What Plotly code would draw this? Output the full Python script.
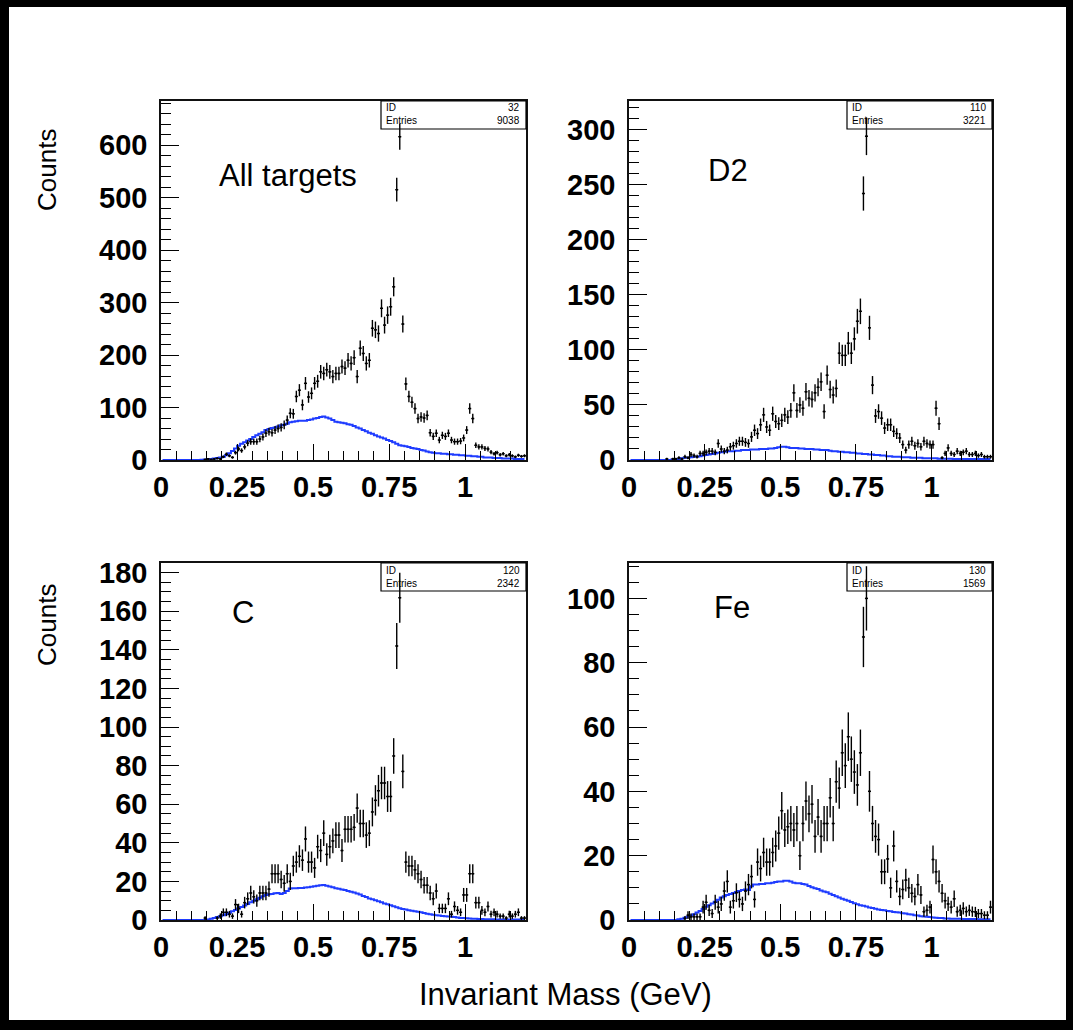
import numpy as np
import plotly.graph_objects as go

# ---------------- data ----------------
BIN_WIDTH = 0.01
N_BINS = 120
bin_centers = [round((i + 0.5) * BIN_WIDTH, 4) for i in range(N_BINS)]

counts_all = [0,0,0,0,0,0,0,0,0,0,
              0,0,0,0,1,2,1,2,3,2,
              6,11,8,5,14,21,18,25,32,35,
              35,35,40,44,51,54,52,57,60,62,
              67,76,89,88,121,133,105,146,120,127,
              146,150,168,165,172,168,159,165,165,178,
              175,190,184,195,159,213,203,184,190,251,
              248,241,289,257,276,292,330,515,616,259,
              145,121,110,98,79,82,80,85,52,45,
              51,38,47,45,51,38,35,35,36,42,
              57,98,79,28,25,25,22,21,15,12,
              14,10,12,8,10,8,6,9,7,8]

bkg_all = [0,0,0,0,0,0,0,0,0,0,
           0,0,0,0.5,1,1.5,2,3,4,5,
           6,9,13,17,22,27,31,34,37,40,
           44,47,50,53,57,59,61,62,64,66,
           67,69,72,73,74,75,75,75,76,77,
           79,80,82,83,81,79,76,73,72,71,
           70,68,67,65,62,60,57,55,52,50,
           47,45,43,41,38,36,34,31,28,27,
           26,25,23,22,21,19,18,16,15,14,
           13,13,12,12,11,11,10,10,9,9,
           8,8,7,7,6,6,5,5,5,4,
           4,4,3,3,3,3,2,2,2,2]

counts_d2 = [0,0,0,0,0,0,0,0,0,0,
             0,0,1,0,1,1,2,1,3,2,
             5,4,3,6,6,7,8,8,7,15,
             10,8,9,12,13,15,17,17,16,15,
             21,27,24,32,41,30,27,42,35,33,
             36,41,39,45,61,45,50,47,62,56,
             55,61,66,71,44,77,64,59,65,97,
             95,95,106,97,110,126,135,242,294,120,
             68,40,44,38,29,32,32,26,24,20,
             14,9,14,17,13,15,12,17,15,14,
             14,47,33,2,6,11,6,5,8,6,
             7,8,5,5,6,4,5,3,3,3]

bkg_d2 = [0,0,0,0,0,0,0,0,0,0,
          0,0,0,0,0.5,1,1,1.5,2,2,
          2.5,3,3,3.5,4,4.5,5,5.5,6,6.5,
          7,7.5,8,8,8,8.5,8.5,9,9,9,
          9.5,9.5,9.5,10,10,10,10.5,10.5,11,11.5,
          12,12,11.5,11,11,11,10.5,10.5,10,10,
          10,9.5,9.5,9,9,9,8.5,8,8,7.5,
          7.5,7,7,6.5,6.5,6,6,5.5,5.5,5,
          5,4.5,4.5,4,4,3.5,3.5,3,3,3,
          2.5,2.5,2.5,2,2,2,2,1.5,1.5,1.5,
          1.5,1.5,1.2,1.2,1.2,1.2,1.2,1,1,1,
          1,1,1,1,1,1,1,1,1,1]

counts_c = [0,0,0,0,0,0,0,0,0,0,
            0,0,0,0,1,0,0,0,1,2,
            4,4,3,2,8,6,3,9,11,14,
            12,10,14,14,14,16,24,24,24,21,
            19,24,20,28,30,33,31,42,30,30,
            27,38,36,45,34,38,41,44,44,36,
            47,47,47,48,58,50,50,44,45,56,
            62,67,71,71,64,64,85,142,167,77,
            30,28,28,26,24,21,18,18,14,11,
            15,6,6,6,11,3,7,5,4,13,
            13,24,24,9,9,5,4,7,3,4,
            3,2,2,1,3,2,3,4,1,1]

bkg_c = [0,0,0,0,0,0,0,0,0,0,
         0,0,0,0,0,0.3,0.6,1,1.5,2,
         2.5,3,3.8,4.5,5.2,6,6.8,7.5,8.3,9.2,
         10,10.8,11.5,12.3,13,13.3,13.5,13.8,14,13.5,
         14,15,16.3,16.5,16.5,16.6,16.6,16.8,17,17.2,
         17.5,17.7,18,18.2,17.8,17.3,17,16.5,16.2,15.8,
         15.5,15,14.7,14.2,13.7,13.2,12.5,11.9,11.2,10.7,
         10.2,9.7,9.2,8.6,8.1,7.6,7.1,6.6,6.1,5.7,
         5.4,5.1,4.8,4.5,4.3,4,3.6,3.3,3,2.7,
         2.5,2.3,2.1,1.9,1.8,1.7,1.5,1.3,1.1,1,
         0.9,0.8,0.7,0.6,0.5,0.5,0.4,0.4,0.4,0.4,
         0.3,0.3,0.3,0.3,0.3,0.2,0.2,0.2,0.2,0.2]

counts_fe = [0,0,0,0,0,0,0,0,0,0,
             0,0,0,0,0,0,0,0,0.5,1.5,
             1,1,1,1,4,5.5,3,2,5.5,4,
             5,9,12,4,6,8.5,6.4,5,9,11,
             13.5,6.4,18,16,21,18,18,21,23,27,
             34,28,29,30,28,30,20,30,37,33,
             36,26,32,26,30,30,38,30,43,41,
             52,48,57,50,46,42,52,88,100,40,
             30,26,25,15,15,19,10,23,12,7.3,
             9.5,12.4,10,8.3,7.3,11,7.8,2.6,3,4,
             18.8,15,12,8.3,6,5,4,6.6,2.6,3,
             3.6,2.6,3,2.6,2.5,2,2,1.5,1.5,4]

bkg_fe = [0,0,0,0,0,0,0,0,0,0,
          0,0,0,0,0,0,0.2,0.4,0.7,1,
          1.4,1.8,2.3,2.8,3.4,4.1,4.6,5.1,5.7,6.3,
          7,7.4,7.8,8.1,8.4,8.7,9,9.3,9.5,9.3,
          10.5,11,11,11.2,11.2,11.4,11.4,11.6,11.8,12,
          12,12.2,12.2,12,11.6,11.4,11.4,11.2,11,10.6,
          10.2,9.9,9.6,9.2,8.9,8.6,8.2,7.8,7.4,7,
          6.6,6.3,6,5.6,5.2,4.9,4.6,4.4,4.2,3.9,
          3.7,3.5,3.3,3.1,3,2.8,2.7,2.5,2.4,2.3,
          2.1,2,1.8,1.7,1.5,1.4,1.2,1.1,1,0.9,
          0.8,0.7,0.6,0.6,0.5,0.5,0.4,0.4,0.4,0.4,
          0.3,0.3,0.3,0.3,0.3,0.2,0.2,0.2,0.2,0.2]

panel_labels = ["All targets", "D2", "C", "Fe"]
stat_ids = ["32", "110", "120", "130"]
stat_entries = ["9038", "3221", "2342", "1569"]
y_max = [684, 326, 185, 111]
y_dtick = [100, 50, 20, 20]
y_minor_dtick = [20, 10, 5, 5]
x_range = [0, 1.2]
x_title = "Invariant Mass (GeV)"
y_title = "Counts"

all_counts = [counts_all, counts_d2, counts_c, counts_fe]
all_bkg = [bkg_all, bkg_d2, bkg_c, bkg_fe]

# ---------------- layout geometry (pixels) ----------------
W, H = 1073, 1030
panels_px = [(161, 526, 101, 460), (629, 992, 101, 460),
             (161, 526, 563, 920), (629, 992, 563, 920)]
label_px = [(217, 175), (706, 170), (230, 612), (712, 607)]

def px(x):
    return x / W

def py(y):
    return 1 - y / H

FONT = "Liberation Sans, Arial, Helvetica, sans-serif"
BLUE = "#1f3cff"

fig = go.Figure()
layout = dict(
    width=W, height=H,
    margin=dict(l=0, r=0, t=0, b=0),
    paper_bgcolor="black",
    plot_bgcolor="white",
    showlegend=False,
    template="none",
    font=dict(family=FONT, color="black"),
)

shapes = [dict(type="rect", xref="paper", yref="paper",
               x0=px(9), x1=px(1066), y0=py(1020), y1=py(7),
               fillcolor="white", line=dict(width=0), layer="below")]
annotations = []

for i in range(4):
    sfx = "" if i == 0 else str(i + 1)
    xa, ya = "x" + sfx, "y" + sfx
    x0, x1, y0, y1 = panels_px[i]
    counts = np.array(all_counts[i], dtype=float)
    bkg = all_bkg[i]
    xc = np.array(bin_centers)
    mask = counts > 0

    # background histogram (blue step line)
    fig.add_trace(go.Scatter(
        x=bin_centers, y=bkg, mode="lines", line_shape="hvh",
        line=dict(color=BLUE, width=2), xaxis=xa, yaxis=ya,
        hoverinfo="skip"))
    # data points with error crosses
    fig.add_trace(go.Scatter(
        x=xc[mask], y=counts[mask], mode="markers",
        marker=dict(size=2, color="black"),
        error_x=dict(type="constant", value=BIN_WIDTH / 2, width=0,
                     thickness=1.4, color="black"),
        error_y=dict(type="data", array=np.sqrt(counts[mask]), width=0,
                     thickness=1.4, color="black"),
        xaxis=xa, yaxis=ya))

    layout["xaxis" + sfx] = dict(
        domain=[px(x0), px(x1)], range=x_range, anchor=ya,
        showline=True, mirror=True, linecolor="#111", linewidth=1.6,
        ticks="inside", ticklen=16, tickwidth=1.3, tickcolor="black",
        tick0=0, dtick=0.25,
        minor=dict(ticks="inside", ticklen=9, tickwidth=1.3,
                   tickcolor="black", dtick=0.05, showgrid=False),
        tickfont=dict(family=FONT, size=29, color="black", weight="bold"),
        showgrid=False, zeroline=False, automargin=False, fixedrange=True)
    layout["yaxis" + sfx] = dict(
        domain=[py(y1), py(y0)], range=[0, y_max[i]], anchor=xa,
        showline=True, mirror=True, linecolor="#111", linewidth=1.6,
        ticks="inside", ticklen=18, tickwidth=1.3, tickcolor="black",
        tick0=0, dtick=y_dtick[i],
        minor=dict(ticks="inside", ticklen=10, tickwidth=1.3,
                   tickcolor="black", dtick=y_minor_dtick[i], showgrid=False),
        tickfont=dict(family=FONT, size=29, color="black", weight="bold"),
        ticklabelstandoff=6,
        showgrid=False, zeroline=False, automargin=False, fixedrange=True)

    # panel label
    lx, ly = label_px[i]
    annotations.append(dict(
        x=px(lx), y=py(ly), xref="paper", yref="paper", text=panel_labels[i],
        showarrow=False, xanchor="left", yanchor="middle",
        font=dict(family=FONT, size=31, color="black")))

    # stats box
    bx0 = x1 - 145
    by1 = y0 + 28
    shapes.append(dict(type="rect", xref="paper", yref="paper",
                       x0=px(bx0), x1=px(x1), y0=py(by1), y1=py(y0),
                       line=dict(color="black", width=1.2),
                       fillcolor="rgba(0,0,0,0)", layer="above"))
    for row, (lab, val) in enumerate([("ID", stat_ids[i]),
                                      ("Entries", stat_entries[i])]):
        yy = y0 + 7 + row * 13
        annotations.append(dict(
            x=px(bx0 + 3), y=py(yy), xref="paper", yref="paper", text=lab,
            showarrow=False, xanchor="left", yanchor="middle",
            font=dict(family=FONT, size=10, color="black")))
        annotations.append(dict(
            x=px(x1 - 4), y=py(yy), xref="paper", yref="paper", text=val,
            showarrow=False, xanchor="right", yanchor="middle",
            font=dict(family=FONT, size=10, color="black")))

# axis titles
for yc in (170, 625):
    annotations.append(dict(
        x=px(47), y=py(yc), xref="paper", yref="paper", text=y_title,
        showarrow=False, textangle=-90, xanchor="center", yanchor="middle",
        font=dict(family=FONT, size=26, color="black")))
annotations.append(dict(
    x=px(565), y=py(994), xref="paper", yref="paper", text=x_title,
    showarrow=False, xanchor="center", yanchor="middle",
    font=dict(family=FONT, size=31, color="black")))

layout["shapes"] = shapes
layout["annotations"] = annotations
fig.update_layout(**layout)
fig.write_html("out.html")
